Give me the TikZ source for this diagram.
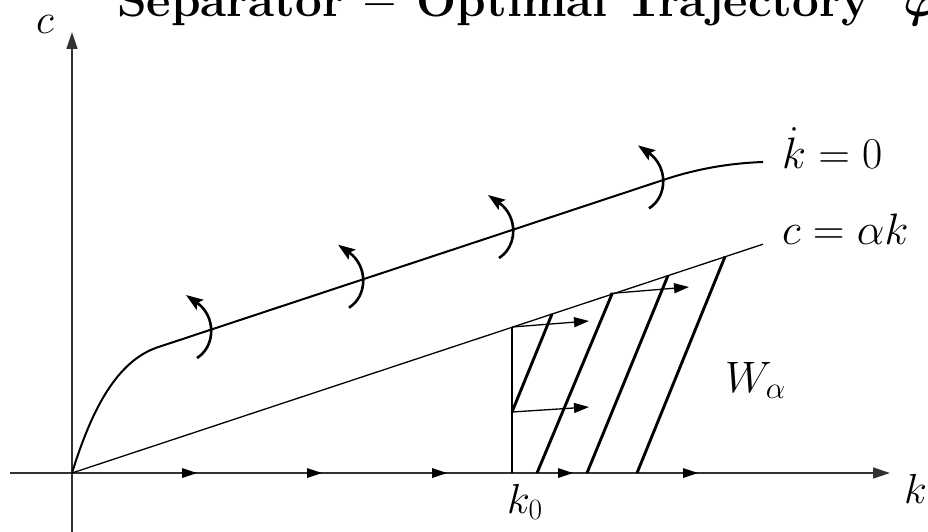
\documentclass[tikz,border=0pt]{standalone}
\usepackage{fix-cm}
\usetikzlibrary{arrows.meta}
\begin{document}
\begin{tikzpicture}[x=1pt,y=-1pt,
  axisline/.style={draw=black!80, line width=1.4pt},
  thinline/.style={draw=black, line width=1.3pt},
  curveline/.style={draw=black, line width=2pt},
  boldline/.style={draw=black, line width=2.9pt},
  flowarrow/.style={draw=black, line width=2.6pt, -{Stealth[length=17pt,width=12pt,inset=3pt]}},
  smallarrow/.style={thinline, -{Triangle[length=15pt,width=10pt]}},
  axisarrow/.style={axisline, -{Triangle[length=17pt,width=11pt]}},
  biglabel/.style={anchor=base west, inner sep=0pt, font=\fontsize{44}{48}\selectfont},
  axislabel/.style={anchor=base west, inner sep=0pt, font=\fontsize{42}{46}\selectfont}
]
\useasboundingbox (0,0) rectangle (928,532);

% title
\node[anchor=base west, inner sep=0pt, font=\fontsize{47.5}{50}\selectfont\bfseries\boldmath] (title) at (117,17)
  {Separator \mbox{\unboldmath$-$} Optimal Trajectory\hspace{34pt}$\varphi$};

% coordinates
\coordinate (O) at (72,473);
\coordinate (kstart) at (10,473);
\coordinate (kend) at (890,473);
\coordinate (cstart) at (72,532);
\coordinate (cend) at (72,32);
\coordinate (Lend) at (763,244.2);
\coordinate (k0top) at (512,327);
\coordinate (k0bot) at (512,473);
\coordinate (P) at (512,412);

% axes
\draw[axisarrow] (kstart) -- (kend);
\draw[axisarrow] (cstart) -- (cend);
\foreach \x in {197,322,447,573,698}
  \fill[black] (\x,473) -- ++(-15,-5) -- ++(0,10) -- cycle;

% c = alpha k line
\draw[thinline] (O) -- (Lend);

% kdot = 0 curve
\draw[curveline] (O) .. controls (90,415) and (115,360) .. (160,346.5)
  -- (662,180.4) .. controls (700,167.4) and (735,163) .. (763,162);

% flow arrows across kdot = 0
\foreach \cx/\cy in {210/330, 362/279.7, 512/230, 662/180.4}
  \draw[flowarrow] (\cx-13,\cy+28) .. controls (\cx+6,\cy+16) and (\cx+6,\cy-14) .. (\cx-24,\cy-35);

% vertical at k0
\draw[thinline] (k0bot) -- (k0top);

% bold trajectories
\draw[boldline] (P) -- (552,314);
\draw[boldline] (537,473) -- (612,294);
\draw[boldline] (587,473) -- (668,275.5);
\draw[boldline] (637,473) -- (725,256.6);

% small horizontal arrows
\draw[smallarrow] (k0top) -- (589,321);
\draw[smallarrow] (P) -- (589,407);
\draw[smallarrow] (610,293.5) -- (689,287);

% labels
\node[biglabel] (lkdot) at (782,168) {$\dot k = 0$};
\node[biglabel] (lalpha) at (782,244) {$c = \alpha k$};
\node[biglabel] (lW) at (725,392) {$W_\alpha$};
\node[axislabel] (lk0) at (507,513) {$k_0$};
\node[axislabel] (lk) at (904,503) {$k$};
\node[axislabel] (lc) at (36,34) {$c$};
\end{tikzpicture}
\end{document}
